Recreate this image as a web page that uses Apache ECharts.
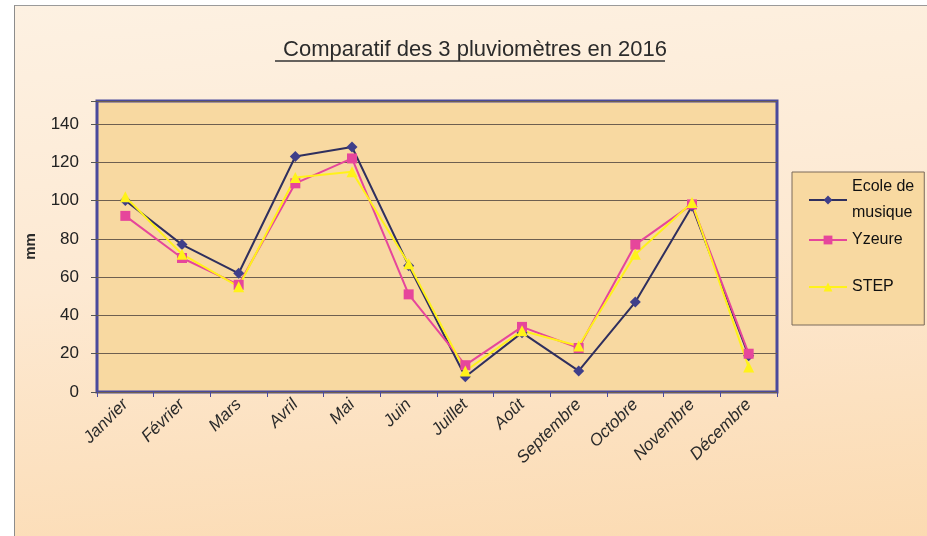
<!DOCTYPE html>
<html>
<head>
<meta charset="utf-8">
<script src="https://cdn.jsdelivr.net/npm/echarts@6/dist/echarts.min.js"></script>
<style>
  html, body { margin: 0; padding: 0; background: #fff; }
  #frame {
    position: absolute; left: 14px; top: 5px; width: 940px; height: 560px;
    border-left: 1px solid #8c8c8c; border-top: 1px solid #9a9a9a;
    background: linear-gradient(175deg, #fdf1e2 0%, #fde9d2 45%, #fbd9ae 100%);
  }
  #chart { position: absolute; left: 0; top: 0; width: 927px; height: 536px; }
</style>
</head>
<body>
<div id="frame"></div>
<div id="chart"></div>
<script>
// mois
const months = ['Janvier', 'Février', 'Mars', 'Avril', 'Mai', 'Juin', 'Juillet', 'Août',
  'Septembre', 'Octobre', 'Novembre', 'Décembre'];
// pluviométrie en mm
const ecoleMusique = [100, 77, 62, 123, 128, 66, 8, 31, 11, 47, 97, 19];
const yzeure = [92, 70, 56, 109, 122, 51, 14, 34, 23, 77, 98, 20];
const step = [102, 72, 55, 112, 115, 67, 11, 32, 24, 72, 99, 13];
const yTicks = [0, 20, 40, 60, 80, 100, 120, 140];

const font = "'Liberation Sans Narrow', 'Liberation Sans', Arial, sans-serif";
const plotBg = '#f8d9a1';

let myChart = echarts.init(document.getElementById('chart'));

let option = {
    backgroundColor: 'transparent',
    animation: false,
    title: {
        text: 'Comparatif des 3 pluviomètres en 2016',
        left: 470,
        textAlign: 'center',
        top: 34,
        textStyle: { fontFamily: font, fontSize: 22, fontWeight: 'normal', color: '#2b2b2b' }
    },
    graphic: [{
        type: 'line',
        z: 100,
        shape: { x1: 275, y1: 61, x2: 665, y2: 61 },
        style: { stroke: '#333', lineWidth: 1.5 }
    }],
    legend: [{
        data: ['Ecole de musique', 'Yzeure'],
        orient: 'vertical',
        left: 792,
        top: 172,
        itemGap: 1,
        itemWidth: 38,
        itemHeight: 11,
        padding: [2, 10, 72, 16],
        backgroundColor: plotBg,
        borderColor: '#7a6a5a',
        borderWidth: 1,
        formatter: function (name) {
            return name === 'Ecole de musique' ? 'Ecole de\nmusique' : name;
        },
        textStyle: { fontFamily: font, fontSize: 16, color: '#111', lineHeight: 26 }
    }, {
        data: ['STEP'],
        orient: 'vertical',
        left: 808,
        top: 274,
        itemWidth: 38,
        itemHeight: 11,
        padding: 0,
        textStyle: { fontFamily: font, fontSize: 16, color: '#111', lineHeight: 26 }
    }],
    grid: {
        left: 97,
        right: 150,
        top: 101,
        bottom: 144,
        show: true,
        backgroundColor: plotBg,
        borderColor: '#4a4a9c',
        borderWidth: 3
    },
    xAxis: {
        type: 'category',
        data: months,
        boundaryGap: true,
        axisLine: { show: false },
        axisTick: { show: true, length: 5, lineStyle: { color: '#4a4a9c' } },
        axisLabel: {
            rotate: 45,
            margin: 10,
            fontFamily: font,
            fontSize: 17,
            fontStyle: 'italic',
            color: '#2b2b2b'
        }
    },
    yAxis: {
        type: 'value',
        min: 0,
        max: 152,
        interval: 20,
        name: 'mm',
        nameLocation: 'middle',
        nameRotate: 90,
        nameGap: 59,
        nameMoveOverlap: false,
        nameTextStyle: { fontFamily: 'Liberation Sans, Arial', fontSize: 15, fontWeight: 'bold', color: '#2b2b2b' },
        axisLine: { show: false },
        axisTick: { show: true, length: 6, lineStyle: { color: '#555' } },
        axisLabel: {
            margin: 18,
            fontFamily: font,
            fontSize: 17,
            color: '#222',
            formatter: function (v) {
                return yTicks.indexOf(v) >= 0 ? String(v) : '';
            }
        },
        splitLine: { show: true, lineStyle: { color: '#6e5f50', width: 1 } }
    },
    series: [{
        name: 'Ecole de musique',
        type: 'line',
        data: ecoleMusique,
        symbol: 'diamond',
        symbolSize: 11,
        color: '#3f3f8a',
        lineStyle: { color: '#2f2f5e', width: 2 },
        itemStyle: { color: '#3f3f8a' }
    }, {
        name: 'Yzeure',
        type: 'line',
        data: yzeure,
        symbol: 'rect',
        symbolSize: 10,
        color: '#e6469b',
        lineStyle: { color: '#e6469b', width: 2 },
        itemStyle: { color: '#e6469b' }
    }, {
        name: 'STEP',
        type: 'line',
        data: step,
        symbol: 'triangle',
        symbolSize: 11,
        color: '#fff21a',
        lineStyle: { color: '#fff21a', width: 2 },
        itemStyle: { color: '#fff21a' }
    }]
};

myChart.setOption(option);
</script>
</body>
</html>
